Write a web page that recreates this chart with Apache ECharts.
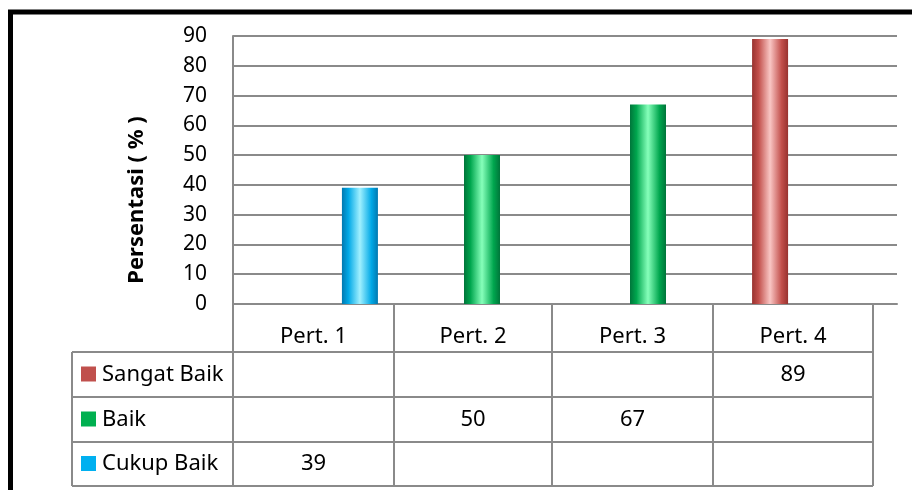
<!DOCTYPE html>
<html>
<head>
<meta charset="utf-8">
<script src="https://cdn.jsdelivr.net/npm/echarts@6/dist/echarts.min.js"></script>
<style>
  html, body { margin: 0; padding: 0; background: #fff; }
  #chart { width: 912px; height: 490px; }
</style>
</head>
<body>
<div id="chart"></div>
<script>
// Meetings (columns) and the share of students per rating level
const categories = ['Pert. 1', 'Pert. 2', 'Pert. 3', 'Pert. 4'];
const sangatBaik = [null, null, null, 89];
const baik = [null, 50, 67, null];
const cukupBaik = [39, null, null, null];
const yTicks = [0, 10, 20, 30, 40, 50, 60, 70, 80, 90];
const yTitle = 'Persentasi ( % )';

const FONT = '"Noto Sans", sans-serif';
const GRID_COLOR = '#8a8a8a';

function cylinder(edge, mid, light) {
  return new echarts.graphic.LinearGradient(0, 0, 1, 0, [
    { offset: 0, color: edge },
    { offset: 0.18, color: mid },
    { offset: 0.5, color: light },
    { offset: 0.82, color: mid },
    { offset: 1, color: edge }
  ]);
}

const seriesDefs = [
  { name: 'Sangat Baik', data: sangatBaik, swatch: '#c0504d', fill: cylinder('#98322f', '#c24f4b', '#f9c6c4') },
  { name: 'Baik', data: baik, swatch: '#00b050', fill: cylinder('#00753a', '#00a64e', '#86ffba') },
  { name: 'Cukup Baik', data: cukupBaik, swatch: '#00b0f0', fill: cylinder('#0078b0', '#00a8e6', '#a0f0ff') }
];

// Data table under the plot: column edges and row edges
const tableLeft = 72;
const colEdges = [233, 394, 552, 713, 873];
const headerTop = 304;
const rowEdges = [352, 397, 442, 486];
const lineStyle = { stroke: GRID_COLOR, lineWidth: 2 };

const graphics = [];
function hline(x1, x2, y) {
  graphics.push({ type: 'line', shape: { x1, y1: y, x2, y2: y }, style: lineStyle, silent: true });
}
function vline(x, y1, y2) {
  graphics.push({ type: 'line', shape: { x1: x, y1, x2: x, y2 }, style: lineStyle, silent: true });
}
rowEdges.forEach(y => hline(tableLeft, colEdges[colEdges.length - 1], y));
vline(tableLeft, rowEdges[0], rowEdges[rowEdges.length - 1]);
colEdges.forEach(x => vline(x, headerTop, rowEdges[rowEdges.length - 1]));

// Header cells
categories.forEach((c, i) => {
  graphics.push({
    type: 'text', silent: true,
    style: {
      x: (colEdges[i] + colEdges[i + 1]) / 2, y: (headerTop + rowEdges[0]) / 2 + 9,
      text: c, fill: '#000', font: '22px ' + FONT, align: 'center', verticalAlign: 'middle'
    }
  });
});

// One row per series: swatch, name and values
seriesDefs.forEach((s, r) => {
  const cy = (rowEdges[r] + rowEdges[r + 1]) / 2;
  graphics.push({
    type: 'rect', silent: true,
    shape: { x: 81, y: cy - 8, width: 15, height: 15 },
    style: { fill: s.swatch }
  });
  graphics.push({
    type: 'text', silent: true,
    style: {
      x: 102, y: cy, text: s.name, fill: '#000', font: '22px ' + FONT,
      align: 'left', verticalAlign: 'middle'
    }
  });
  s.data.forEach((v, i) => {
    if (v == null) return;
    graphics.push({
      type: 'text', silent: true,
      style: {
        x: (colEdges[i] + colEdges[i + 1]) / 2, y: cy,
        text: String(v), fill: '#000', font: '22px ' + FONT,
        align: 'center', verticalAlign: 'middle'
      }
    });
  });
});

// Vertical axis title
graphics.push({
  type: 'text', silent: true,
  x: 137, y: 200, rotation: Math.PI / 2,
  style: {
    text: yTitle, fill: '#000', font: 'bold 22px ' + FONT,
    align: 'center', verticalAlign: 'middle'
  }
});

// Black frame along the top and left edges
graphics.push({ type: 'line', silent: true, shape: { x1: 8, y1: 12, x2: 912, y2: 12 }, style: { stroke: '#000', lineWidth: 5 } });
graphics.push({ type: 'line', silent: true, shape: { x1: 10.5, y1: 10, x2: 10.5, y2: 490 }, style: { stroke: '#000', lineWidth: 5 } });

const chart = echarts.init(document.getElementById('chart'), null, { renderer: 'canvas' });
chart.setOption({
  backgroundColor: '#fff',
  animation: false,
  grid: { left: 233, right: 15, top: 36, bottom: 186, containLabel: false },
  xAxis: {
    type: 'category',
    data: categories,
    axisLine: { show: true, lineStyle: { color: GRID_COLOR, width: 2 } },
    axisTick: { show: false },
    axisLabel: { show: false },
    splitLine: { show: false }
  },
  yAxis: {
    type: 'value',
    min: yTicks[0],
    max: yTicks[yTicks.length - 1],
    interval: yTicks[1] - yTicks[0],
    axisLine: { show: true, lineStyle: { color: GRID_COLOR, width: 2 } },
    axisTick: { show: false },
    axisLabel: { fontFamily: FONT, fontSize: 21, color: '#000', margin: 26 },
    splitLine: { show: true, lineStyle: { color: GRID_COLOR, width: 2 } }
  },
  series: seriesDefs.map(s => ({
    name: s.name,
    type: 'bar',
    data: s.data,
    barWidth: 36,
    barGap: '22%',
    itemStyle: { color: s.fill }
  })),
  graphic: graphics
});
</script>
</body>
</html>
